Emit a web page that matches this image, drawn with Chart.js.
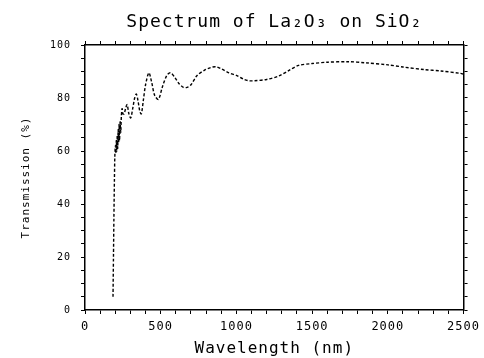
<!DOCTYPE html>
<html>
<head>
<meta charset="utf-8">
<script src="https://cdn.jsdelivr.net/npm/chart.js@4"></script>
<style>
html,body{margin:0;padding:0;background:#fff;}
#wrap{width:484px;height:358px;}
</style>
</head>
<body>
<div id="wrap"><canvas id="c" width="484" height="358"></canvas></div>
<script>
const wavelengths = [185,188,191,194,197,201,204,207,210,213,216,219,222,225,228,232,236,240,245,251,258,268,278,290,302,315,328,339,350,362,372,385,400,422,440,460,485,510,540,564,590,620,650,674,700,740,790,830,864,900,950,1000,1050,1083,1120,1200,1280,1350,1411,1500,1600,1739,1850,2001,2100,2242,2350,2481,2500];
const transmission = [5,20,35,48,58,62,59,64,60,66,61,68,63,70,64,71,67,73,76,74,74,76,77.5,74,72.5,76,80,81.5,79,75,74,79,85,89.5,86,81,79.5,84,88.5,89.5,88,85.5,84,84,85,88.5,90.5,91.5,91.8,91,89.5,88.5,87,86.5,86.5,87,88.3,90.5,92.3,93,93.5,93.7,93.3,92.5,91.7,90.7,90.2,89.3,89];
const xTickLabels = [0,500,1000,1500,2000,2500];
const yTickLabels = [0,20,40,60,80,100];

const FONT = "'DejaVu Sans Mono', monospace";
const points = wavelengths.map((w,i)=>({x:w,y:transmission[i]}));

const spacing = {
  id:'spacing',
  beforeDraw(chart){ chart.ctx.letterSpacing='1px'; }
};

function gridOpts(){
  return {drawOnChartArea:false, color:'#000', tickLength:4, lineWidth:1};
}

new Chart(document.getElementById('c'), {
  type:'scatter',
  data:{datasets:[{
    data:points, showLine:true, borderColor:'#000', borderWidth:1.4,
    borderDash:[3,2], pointRadius:0, tension:0.3, fill:false
  }]},
  options:{
    responsive:false, animation:false,
    layout:{padding:0},
    plugins:{
      legend:{display:false}, tooltip:{enabled:false},
      title:{display:true, text:'Spectrum of La₂O₃ on SiO₂', color:'#000', fullSize:false,
        font:{family:FONT, size:18, weight:'normal', lineHeight:1}, padding:{top:13,bottom:2}}
    },
    scales:{
      x:{type:'linear', position:'bottom', min:0, max:2500,
        afterFit(s){s.height=48;},
        border:{color:'#000', width:1.5},
        grid:gridOpts(),
        ticks:{stepSize:100, autoSkip:false, maxRotation:0, color:'#000', padding:6,
          font:{family:FONT, size:12},
          callback:v=> xTickLabels.includes(v) ? String(v) : ''},
        title:{display:true, text:'Wavelength (nm)', color:'#000',
          font:{family:FONT, size:16}, padding:{top:0,bottom:0}}
      },
      x2:{type:'linear', position:'top', min:0, max:2500,
        afterFit(s){s.height=12;},
        border:{color:'#000', width:1.5},
        grid:gridOpts(),
        ticks:{stepSize:100, autoSkip:false, maxRotation:0, callback:()=>''}
      },
      y:{type:'linear', position:'left', min:0, max:100,
        afterFit(s){s.width=85;},
        border:{color:'#000', width:1.5},
        grid:gridOpts(),
        ticks:{stepSize:5, autoSkip:false, color:'#000', padding:10,
          font:{family:FONT, size:10},
          callback:v=> yTickLabels.includes(v) ? String(v) : ''},
        title:{display:true, text:'Transmission (%)', color:'#000',
          font:{family:FONT, size:11}, padding:{top:20,bottom:0}}
      },
      y2:{type:'linear', position:'right', min:0, max:100,
        afterFit(s){s.width=18;},
        border:{color:'#000', width:1.5},
        grid:gridOpts(),
        ticks:{stepSize:5, autoSkip:false, callback:()=>''}
      }
    }
  },
  plugins:[spacing]
});
</script>
</body>
</html>
